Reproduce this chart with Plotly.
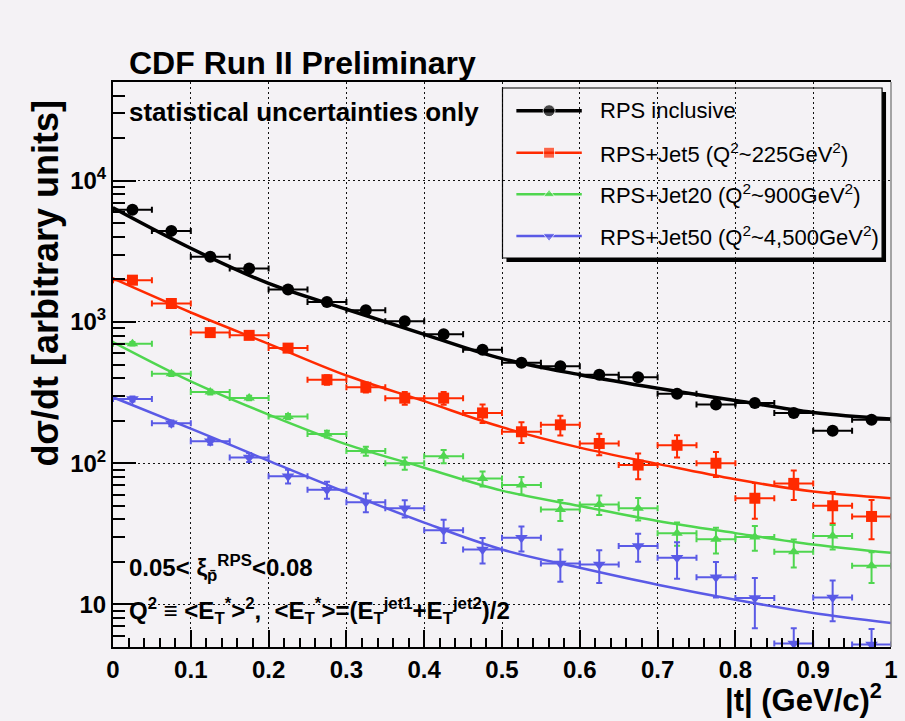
import plotly.graph_objects as go

# |t| bin centres (bin width 0.05)
t_centers = [0.025, 0.075, 0.125, 0.175, 0.225, 0.275, 0.325, 0.375, 0.425, 0.475,
             0.525, 0.575, 0.625, 0.675, 0.725, 0.775, 0.825, 0.875, 0.925, 0.975]
t_halfwidth = 0.025

incl = [6220, 4415, 2900, 2390, 1700, 1387, 1210, 1011, 818, 637,
        514, 486, 423, 406, 310, 260, 267, 227, 170, 203]
incl_err = [90, 65, 45, 40, 30, 26, 24, 21, 18, 15, 13, 13, 12, 12, 10, 9, 9, 9, 8, 8]

jet5 = [1977, 1352, 841, 804, 653, 390, 345, 289, 289, 227,
        167, 187, 138, 97, 134, 100, 56.5, 72, 50, 42]
jet5_err = [60, 48, 35, 34, 30, 30, 28, 30, 30, 34, 28, 30, 24, 20, 24, 20, 16, 17, 12.5, 13]

jet20 = [702, 430, 319, 290, 214, 161, 122, 100, 112, 78,
         70, 47, 51, 48, 32, 29, 30, 23.6, 30.5, 18.8]
jet20_err = [20, 15, 12, 11, 9, 9, 9, 10, 12, 9.5, 10, 8, 8, 8.7, 6, 6, 6, 5.3, 6, 4.6]

jet50 = [285, 192, 143, 110, 81, 65, 53, 48, 33.5, 24.5,
         29.7, 19.5, 19.2, 25.9, 21.4, 15.6, 11.1, 5.3, 11.2, 5.2]
jet50_err = [12, 9, 8, 8, 9, 9, 8, 6.7, 6.3, 5, 6, 5, 5, 5.8, 6.2, 4.4, 4.3, 1.5, 3.6, 1.5]

# fitted curves
t_fit = [0.0, 0.1, 0.2, 0.3, 0.4, 0.5, 0.6, 0.7, 0.8, 0.9, 1.0]
incl_fit = [6430, 3324, 1875, 1230, 818, 550, 423, 339, 278, 229, 206]
jet5_fit = [2032, 1167, 700, 418, 275, 180, 129, 99, 77, 63, 56.5]
jet20_fit = [721, 380, 221, 136, 93, 64, 49.8, 39, 32, 26.6, 23.2]
jet50_fit = [293, 176, 104, 62, 38, 24.5, 18.2, 13.8, 10.8, 8.7, 7.4]

names = ["RPS inclusive",
         "RPS+Jet5 (Q<sup>2</sup>~225GeV<sup>2</sup>)",
         "RPS+Jet20 (Q<sup>2</sup>~900GeV<sup>2</sup>)",
         "RPS+Jet50 (Q<sup>2</sup>~4,500GeV<sup>2</sup>)"]
colors = ["#000000", "#ff2a00", "#4fd64f", "#5a5ae6"]
symbols = ["circle", "square", "triangle-up", "triangle-down"]
msizes = [12, 11, 10, 11]
lwidths = [3.5, 2.5, 2.5, 2.5]

x_ticks = [0, 0.1, 0.2, 0.3, 0.4, 0.5, 0.6, 0.7, 0.8, 0.9, 1]
x_ticktext = ["0", "0.1", "0.2", "0.3", "0.4", "0.5", "0.6", "0.7", "0.8", "0.9", "1"]
y_ticks = [10, 100, 1000, 10000]
y_ticktext = ["10", "10<sup>2</sup>", "10<sup>3</sup>", "10<sup>4</sup>"]

BG = "#f4f2f5"
FONT = "Liberation Sans, Arial, sans-serif"

series = [(incl, incl_err, incl_fit), (jet5, jet5_err, jet5_fit),
          (jet20, jet20_err, jet20_fit), (jet50, jet50_err, jet50_fit)]

fig = go.Figure()
for i, (vals, errs, fit) in enumerate(series):
    fig.add_trace(go.Scatter(
        x=t_fit, y=fit, mode="lines", line=dict(color=colors[i], width=lwidths[i], shape="spline"),
        showlegend=False, hoverinfo="skip"))
    fig.add_trace(go.Scatter(
        x=t_centers, y=vals, mode="markers",
        marker=dict(color=colors[i], symbol=symbols[i], size=msizes[i], line=dict(width=0)),
        error_x=dict(type="constant", value=t_halfwidth, color=colors[i], thickness=2, width=3),
        error_y=dict(type="data", array=errs, color=colors[i], thickness=2, width=3),
        showlegend=False))

# hand-drawn ROOT style legend (overlay axes = paper coords)
def px_x(p):
    return (p - 113) / 785

def px_y(p):
    return (647 - p) / 565

rows = [110.7, 152.7, 194.3, 236]
for i in range(4):
    yy = px_y(rows[i])
    fig.add_trace(go.Scatter(
        x=[px_x(520), px_x(553), px_x(586)], y=[yy, yy, yy], xaxis="x2", yaxis="y2",
        mode="lines+markers", line=dict(color=colors[i], width=lwidths[i]),
        marker=dict(color=colors[i], symbol=symbols[i], size=[0, msizes[i], 0]),
        showlegend=False, hoverinfo="skip", cliponaxis=False))

shapes = [
    dict(type="rect", xref="paper", yref="paper", x0=px_x(510), x1=px_x(893), y0=px_y(262), y1=px_y(92),
         fillcolor="black", line=dict(width=0), layer="between"),
    dict(type="rect", xref="paper", yref="paper", x0=px_x(506), x1=px_x(889), y0=px_y(258), y1=px_y(88),
         fillcolor=BG, line=dict(color="black", width=1.2), layer="between"),
    dict(type="line", xref="paper", yref="paper", x0=1, x1=1, y0=0, y1=1,
         line=dict(color="#888888", width=1.5)),
]

annotations = [
    dict(text="<b>CDF Run II Preliminary</b>", x=px_x(127), y=px_y(63), xanchor="left", yanchor="middle",
         font=dict(size=32)),
    dict(text="<b>statistical uncertainties only</b>", x=px_x(127), y=px_y(112), xanchor="left",
         yanchor="middle", font=dict(size=26)),
    dict(text="<b>0.05&lt; ξ<sub>p̄</sub><sup>RPS</sup>&lt;0.08</b>", x=px_x(127), y=px_y(568),
         xanchor="left", yanchor="middle", font=dict(size=24)),
    dict(text="<b>Q<sup>2</sup> ≡ &lt;E<sub>T</sub><sup>*</sup>&gt;<sup>2</sup>,  &lt;E<sub>T</sub><sup>*</sup>&gt;"
              "=(E<sub>T</sub><sup>jet1</sup>+E<sub>T</sub><sup>jet2</sup>)/2</b>",
         x=px_x(127), y=px_y(611), xanchor="left", yanchor="middle", font=dict(size=24)),
    dict(text="<b>|t| (GeV/c)<sup>2</sup></b>", x=px_x(891), y=px_y(698), xanchor="right", yanchor="middle",
         font=dict(size=31)),
    dict(text="<b>dσ/dt [arbitrary units]</b>", x=px_x(44), y=px_y(283), xanchor="center", yanchor="middle",
         textangle=-90, font=dict(size=36)),
]
for i in range(4):
    annotations.append(dict(text=names[i], x=px_x(602), y=px_y(rows[i]), xanchor="left", yanchor="middle",
                            font=dict(size=22)))
for a in annotations:
    a.update(xref="paper", yref="paper", showarrow=False)
    a["font"].update(color="black", family=FONT)

grid_dash = "2px,3px"
fig.update_layout(
    width=905, height=721,
    margin=dict(l=113, r=7, t=82, b=74),
    paper_bgcolor=BG, plot_bgcolor=BG,
    font=dict(family=FONT, color="black"),
    showlegend=False,
    shapes=shapes, annotations=annotations,
    xaxis=dict(range=[0, 1], tickvals=x_ticks, ticktext=x_ticktext, ticks="inside", ticklen=17,
               tickwidth=1.5, tickcolor="black", showline=True, linecolor="black", linewidth=2,
               mirror=True, showgrid=True, gridcolor="#111111", griddash=grid_dash, gridwidth=1,
               zeroline=False, tickfont=dict(size=24, weight="bold"),
               minor=dict(dtick=0.02, ticks="inside", ticklen=9, tickcolor="black", showgrid=False)),
    yaxis=dict(type="log", range=[0.69897, 4.69897], tickvals=y_ticks, ticktext=y_ticktext,
               ticks="inside", ticklen=23, tickwidth=1.5, tickcolor="black", showline=True,
               linecolor="black", linewidth=2, showgrid=True, gridcolor="#111111", griddash=grid_dash,
               gridwidth=1, zeroline=False, tickfont=dict(size=24, weight="bold"),
               minor=dict(tickvals=[5, 6, 7, 8, 9, 20, 30, 40, 50, 60, 70, 80, 90,
                                    200, 300, 400, 500, 600, 700, 800, 900,
                                    2000, 3000, 4000, 5000, 6000, 7000, 8000, 9000,
                                    20000, 30000, 40000],
                          ticks="inside", ticklen=12, tickcolor="black", showgrid=False)),
    xaxis2=dict(overlaying="x", anchor="y2", range=[0, 1], visible=False),
    yaxis2=dict(overlaying="y", anchor="x2", range=[0, 1], visible=False),
)

fig.write_html("out.html", config={"displayModeBar": False},
               post_script="document.body.style.margin='0px';document.body.style.background='%s';" % BG)
